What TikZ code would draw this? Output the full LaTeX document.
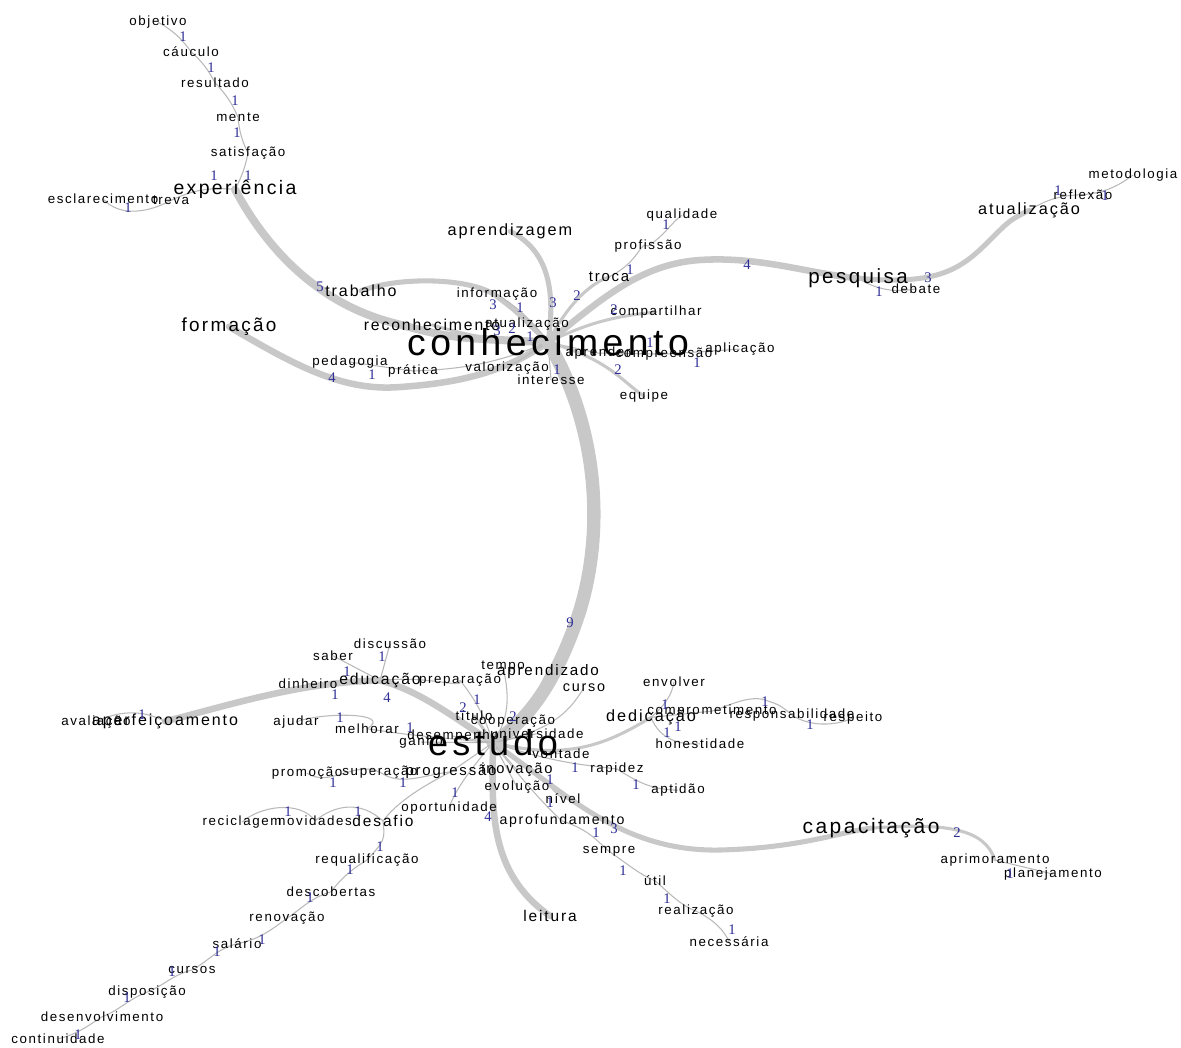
\documentclass[tikz,border=0pt]{standalone}
\usepackage{fontspec}
\setmainfont{Liberation Sans}[LetterSpace=12]
\newfontfamily\numfont{Liberation Serif}
\definecolor{bandc}{RGB}{200,200,200}
\definecolor{thinc}{RGB}{185,185,185}
\definecolor{numc}{RGB}{45,45,150}
\pgfdeclarelayer{bg}
\pgfsetlayers{bg,main}
\begin{document}
\begin{tikzpicture}[x=0.75pt,y=-0.75pt,
  wd/.style={font=\fontsize{#1}{#1}\selectfont, inner sep=0pt, anchor=mid, text=black},
  wd/.default=10,
  nm/.style={font=\numfont\fontsize{11}{11}\selectfont, text=numc, inner sep=0pt},
  e1/.style={draw=thinc, line width=0.8pt},
  e2/.style={draw=bandc, line width=2.3pt, line cap=round},
  e3/.style={draw=bandc, line width=3.8pt, line cap=round},
  e4/.style={draw=bandc, line width=4.9pt, line cap=round},
  e5/.style={draw=bandc, line width=6pt, line cap=round},
  e9/.style={draw=bandc, line width=10pt, line cap=round}]
\useasboundingbox (0,0) rectangle (1181,1047);

% ---------- upper cluster ----------
\node[wd] (obj) at (158,22) {objetivo};
\node[wd] (cau) at (191,53) {cáuculo};
\node[wd] (res) at (215,84) {resultado};
\node[wd] (men) at (238,118) {mente};
\node[wd] (sat) at (248,153) {satisfação};
\node[wd=14.6] (exp) at (235,191) {experiência};
\node[wd] (esc) at (103,200) {esclarecimento};
\node[wd] (tre) at (171,201) {treva};
\node[wd=12] (tra) at (361,293) {trabalho};
\node[wd=14.2] (frm) at (229,328) {formação};
\node[wd=12.2] (apz) at (510,232) {aprendizagem};
\node[wd] (inf) at (497,294) {informação};
\node[wd=11.8] (rec) at (432,327) {reconhecimento};
\node[wd] (atu) at (527,324) {atualização};
\node[wd=28] (con) at (548,352) {conhecimento};
\node[wd] (ped) at (350,362) {pedagogia};
\node[wd] (pra) at (413,371) {prática};
\node[wd] (val) at (507,368) {valorização};
\node[wd] (int) at (551,381) {interesse};
\node[wd=11.2] (tro) at (609,278) {troca};
\node[wd] (prf) at (648,246) {profissão};
\node[wd] (qua) at (682,215) {qualidade};
\node[wd] (com) at (656,312) {compartilhar};
\node[wd] (apd) at (598,353) {aprender};
\node[wd] (cmp) at (664,354) {compreensão};
\node[wd] (apl) at (740,349) {aplicação};
\node[wd] (equ) at (644,396) {equipe};
\node[wd=15.4] (pes) at (858,280) {pesquisa};
\node[wd] (deb) at (916,290) {debate};
\node[wd=12.2] (atz) at (1029,211) {atualização};
\node[wd] (ref) at (1083,196) {reflexão};
\node[wd] (met) at (1133,175) {metodologia};

% ---------- lower cluster ----------
\node[wd] (dis) at (390,645) {discussão};
\node[wd] (sab) at (333,657) {saber};
\node[wd] (din) at (308,685) {dinheiro};
\node[wd=11.8] (edu) at (380,681) {educação};
\node[wd] (prp) at (460,680) {preparação};
\node[wd] (tem) at (503,666) {tempo};
\node[wd=11.4] (apo) at (548,672) {aprendizado};
\node[wd=10.8] (cur) at (584,688) {curso};
\node[wd=12] (ape) at (165,722) {aperfeiçoamento};
\node[wd] (ava) at (96,722) {avaliação};
\node[wd] (aju) at (296,722) {ajudar};
\node[wd] (mel) at (367,730) {melhorar};
\node[wd] (tit) at (474,717) {título};
\node[wd] (coo) at (513,721) {cooperação};
\node[wd] (uni) at (537,735) {universidade};
\node[wd] (des) at (453,736) {desempenho};
\node[wd] (gan) at (421,742) {ganho};
\node[wd=27] (est) at (493,752) {estudo};
\node[wd] (von) at (561,755) {vontade};
\node[wd=11.2] (prg) at (451,772) {progressão};
\node[wd] (sup) at (380,772) {superação};
\node[wd] (pro) at (307,773) {promoção};
\node[wd=11] (ino) at (517,770) {inovação};
\node[wd] (evo) at (517,787) {evolução};
\node[wd] (niv) at (563,800) {nível};
\node[wd] (opo) at (449,808) {oportunidade};
\node[wd] (rap) at (617,769) {rapidez};
\node[wd] (apt) at (678,790) {aptidão};
\node[wd=12.2] (ded) at (651,718) {dedicação};
\node[wd] (env) at (674,683) {envolver};
\node[wd] (cpr) at (712,711) {comprometimento};
\node[wd] (rsp) at (792,715) {responsabilidade};
\node[wd] (rpt) at (853,718) {respeito};
\node[wd] (hon) at (700,745) {honestidade};
\node[wd=10.6] (apf) at (562,821) {aprofundamento};
\node[wd=15.7] (cap) at (871,830) {capacitação};
\node[wd] (apr) at (995,860) {aprimoramento};
\node[wd] (pla) at (1053,874) {planejamento};
\node[wd] (sem) at (609,850) {sempre};
\node[wd] (uti) at (655,882) {útil};
\node[wd] (rea) at (696,911) {realização};
\node[wd] (nec) at (729,943) {necessária};
\node[wd=11.6] (lei) at (550,918) {leitura};
\node[wd] (rci) at (242,822) {reciclagem};
\node[wd] (nov) at (315,822) {novidades};
\node[wd=11.6] (dsf) at (383,823) {desafio};
\node[wd] (req) at (367,860) {requalificação};
\node[wd] (dco) at (331,893) {descobertas};
\node[wd] (ren) at (287,918) {renovação};
\node[wd] (sal) at (237,945) {salário};
\node[wd] (crs) at (192,970) {cursos};
\node[wd] (dsp) at (147,992) {disposição};
\node[wd] (dev) at (102,1018) {desenvolvimento};
\node[wd] (cnt) at (58,1040) {continuidade};

% ---------- edge weights ----------
\node[nm] (n1) at (183,37) {1};
\node[nm] (n2) at (211,68) {1};
\node[nm] (n3) at (235,101) {1};
\node[nm] (n4) at (237,133) {1};
\node[nm] (n5) at (214,176) {1};
\node[nm] (n6) at (248,176) {1};
\node[nm] (n7) at (128,208) {1};
\node[nm] (n8) at (320,287) {5};
\node[nm] (n9) at (493,305) {3};
\node[nm] (n10) at (520,308) {1};
\node[nm] (n11) at (553,303) {3};
\node[nm] (n12) at (577,296) {2};
\node[nm] (n13) at (614,310) {2};
\node[nm] (n14) at (497,331) {3};
\node[nm] (n15) at (512,329) {2};
\node[nm] (n16) at (530,337) {1};
\node[nm] (n17) at (332,378) {4};
\node[nm] (n18) at (372,375) {1};
\node[nm] (n19) at (557,370) {1};
\node[nm] (n20) at (630,270) {1};
\node[nm] (n21) at (666,225) {1};
\node[nm] (n22) at (747,265) {4};
\node[nm] (n23) at (650,343) {1};
\node[nm] (n24) at (697,363) {1};
\node[nm] (n25) at (618,370) {2};
\node[nm] (n26) at (879,292) {1};
\node[nm] (n27) at (928,278) {3};
\node[nm] (n28) at (1058,191) {1};
\node[nm] (n29) at (1105,196) {1};
\node[nm] (n30) at (570,623) {9};
\node[nm] (n31) at (382,657) {1};
\node[nm] (n32) at (347,672) {1};
\node[nm] (n33) at (335,695) {1};
\node[nm] (n34) at (387,698) {4};
\node[nm] (n35) at (463,708) {2};
\node[nm] (n36) at (477,700) {1};
\node[nm] (n37) at (513,717) {2};
\node[nm] (n38) at (340,718) {1};
\node[nm] (n39) at (410,728) {1};
\node[nm] (n40) at (142,715) {1};
\node[nm] (n41) at (333,783) {1};
\node[nm] (n42) at (403,783) {1};
\node[nm] (n43) at (455,793) {1};
\node[nm] (n44) at (488,817) {4};
\node[nm] (n45) at (288,812) {1};
\node[nm] (n46) at (358,812) {1};
\node[nm] (n47) at (380,847) {1};
\node[nm] (n48) at (350,870) {1};
\node[nm] (n49) at (310,898) {1};
\node[nm] (n50) at (262,940) {1};
\node[nm] (n51) at (217,952) {1};
\node[nm] (n52) at (172,972) {1};
\node[nm] (n53) at (127,998) {1};
\node[nm] (n54) at (78,1035) {1};
\node[nm] (n55) at (575,768) {1};
\node[nm] (n56) at (636,785) {1};
\node[nm] (n57) at (550,780) {1};
\node[nm] (n58) at (550,803) {1};
\node[nm] (n59) at (596,833) {1};
\node[nm] (n60) at (614,829) {3};
\node[nm] (n61) at (957,833) {2};
\node[nm] (n62) at (623,871) {1};
\node[nm] (n63) at (667,899) {1};
\node[nm] (n64) at (732,930) {1};
\node[nm] (n65) at (665,705) {1};
\node[nm] (n66) at (678,727) {1};
\node[nm] (n67) at (667,733) {1};
\node[nm] (n68) at (765,702) {1};
\node[nm] (n69) at (810,725) {1};
\node[nm] (n70) at (1010,874) {1};

\begin{pgfonlayer}{bg}
% upper cluster connectors
\draw[e1] (obj.center) to[bend left=12] (cau.center);
\draw[e1] (cau.center) to[bend left=10] (res.center);
\draw[e1] (res.center) to[bend left=10] (men.center);
\draw[e1] (men.center) to[bend right=10] (sat.center);
\draw[e1] (sat.center) to[bend left=8] (exp.center);
\draw[e1] (esc.center) .. controls (120,218) and (150,212) .. (tre.center);
\draw[e1] (tre.center) to[bend left=15] (exp.center);
\draw[e5] (exp.center) .. controls (262,240) and (310,300) .. (390,322) .. controls (450,338) .. (con.center);
\draw[e3] (tra.center) .. controls (400,276) and (470,278) .. (495,295) .. controls (515,310) .. (con.center);
\draw[e4] (frm.center) .. controls (290,362) and (340,392) .. (400,387) .. controls (460,383) and (505,372) .. (con.center);
\draw[e1] (ped.center) -- (pra.center);
\draw[e1] (pra.center) to[bend right=10] (con.center);
\draw[e3] (apz.center) .. controls (548,250) and (556,290) .. (con.center);
\draw[e1] (inf.center) to[bend left=10] (con.center);
\draw[e2] (rec.center) to[bend right=8] (con.center);
\draw[e2] (atu.center) -- (con.center);
\draw[e1] (val.center) -- (con.center);
\draw[e1] (int.center) -- (con.center);
\draw[e2] (tro.center) .. controls (585,286) and (565,310) .. (con.center);
\draw[e1] (tro.center) .. controls (640,262) and (640,240) .. (prf.center);
\draw[e1] (prf.center) .. controls (665,235) and (672,222) .. (qua.center);
\draw[e2] (com.center) to[bend right=10] (con.center);
\draw[e4] (con.center) .. controls (600,300) and (640,264) .. (700,260) .. controls (760,256) and (810,274) .. (pes.center);
\draw[e1] (con.center) -- (apd.center);
\draw[e1] (apd.center) -- (cmp.center);
\draw[e1] (cmp.center) -- (apl.center);
\draw[e2] (con.center) .. controls (610,360) and (620,380) .. (equ.center);
\draw[e1] (pes.center) .. controls (880,292) and (900,292) .. (deb.center);
\draw[e3] (pes.center) .. controls (940,286) and (962,268) .. (990,240) .. controls (1010,220) .. (atz.center);
\draw[e1] (atz.center) to[bend left=15] (ref.center);
\draw[e1] (ref.center) to[bend right=15] (met.center);
\draw[e9] (con.center) .. controls (600,430) and (606,540) .. (575,625) .. controls (555,680) and (530,720) .. (est.center);
% lower cluster connectors
\draw[e1] (edu.center) -- (dis.center);
\draw[e1] (edu.center) -- (sab.center);
\draw[e1] (edu.center) -- (din.center);
\draw[e4] (ape.center) .. controls (230,705) and (300,682) .. (edu.center);
\draw[e4] (edu.center) .. controls (420,690) and (460,722) .. (est.center);
\draw[e1] (ape.center) .. controls (140,708) and (115,712) .. (ava.center);
\draw[e1] (edu.center) .. controls (430,675) and (465,690) .. (prp.center);
\draw[e1] (prp.center) to[bend left=10] (est.center);
\draw[e2] (tit.center) -- (est.center);
\draw[e1] (tem.center) .. controls (508,690) and (512,715) .. (est.center);
\draw[e2] (apo.center) .. controls (535,700) .. (est.center);
\draw[e1] (cur.center) .. controls (570,710) and (555,730) .. (est.center);
\draw[e1] (aju.center) .. controls (320,712) and (395,712) .. (mel.center);
\draw[e1] (mel.center) .. controls (410,735) .. (est.center);
\draw[e1] (coo.center) -- (est.center);
\draw[e1] (uni.center) -- (est.center);
\draw[e1] (des.center) -- (est.center);
\draw[e1] (gan.center) -- (est.center);
\draw[e1] (von.center) -- (est.center);
\draw[e1] (ino.center) -- (est.center);
\draw[e1] (evo.center) -- (est.center);
\draw[e1] (pro.center) .. controls (330,788) and (355,760) .. (sup.center);
\draw[e1] (sup.center) .. controls (400,786) and (420,776) .. (prg.center);
\draw[e1] (prg.center) -- (est.center);
\draw[e1] (opo.center) .. controls (455,790) and (470,770) .. (est.center);
\draw[e1] (prg.center) .. controls (415,790) and (395,805) .. (dsf.center);
\draw[e1] (rci.center) .. controls (260,806) and (300,800) .. (nov.center);
\draw[e1] (nov.center) .. controls (335,805) and (360,800) .. (dsf.center);
\draw[e1] (dsf.center) .. controls (385,840) .. (req.center);
\draw[e1] (req.center) .. controls (350,870) and (340,880) .. (dco.center);
\draw[e1] (dco.center) .. controls (310,898) and (300,910) .. (ren.center);
\draw[e1] (ren.center) .. controls (265,935) and (255,940) .. (sal.center);
\draw[e1] (sal.center) .. controls (215,950) and (210,960) .. (crs.center);
\draw[e1] (crs.center) .. controls (172,975) and (165,985) .. (dsp.center);
\draw[e1] (dsp.center) .. controls (127,1000) and (120,1010) .. (dev.center);
\draw[e1] (dev.center) .. controls (85,1028) and (75,1035) .. (cnt.center);
\draw[e1] (est.center) .. controls (560,765) and (590,765) .. (rap.center);
\draw[e1] (rap.center) .. controls (635,780) and (650,790) .. (apt.center);
\draw[e1] (est.center) .. controls (545,775) and (550,790) .. (niv.center);
\draw[e2] (est.center) .. controls (570,762) and (610,742) .. (ded.center);
\draw[e1] (ded.center) .. controls (665,705) and (672,695) .. (env.center);
\draw[e1] (ded.center) -- (cpr.center);
\draw[e1] (ded.center) .. controls (660,740) and (680,745) .. (hon.center);
\draw[e1] (cpr.center) .. controls (730,705) and (750,695) .. (765,700) .. controls (780,705) .. (rsp.center);
\draw[e1] (rsp.center) .. controls (810,727) and (835,726) .. (rpt.center);
\draw[e3] (est.center) .. controls (565,792) and (620,852) .. (720,850) .. controls (800,848) and (840,832) .. (cap.center);
\draw[e2] (cap.center) .. controls (950,822) and (985,830) .. (apr.center);
\draw[e1] (apr.center) -- (pla.center);
\draw[e1] (est.center) .. controls (530,790) and (550,810) .. (apf.center);
\draw[e1] (apf.center) .. controls (590,830) and (598,842) .. (sem.center);
\draw[e1] (sem.center) .. controls (625,862) and (640,875) .. (uti.center);
\draw[e1] (uti.center) .. controls (668,892) and (680,905) .. (rea.center);
\draw[e1] (rea.center) .. controls (715,920) and (725,932) .. (nec.center);
\draw[e4] (est.center) .. controls (492,810) and (488,872) .. (lei.center);
\end{pgfonlayer}
\end{tikzpicture}
\end{document}
